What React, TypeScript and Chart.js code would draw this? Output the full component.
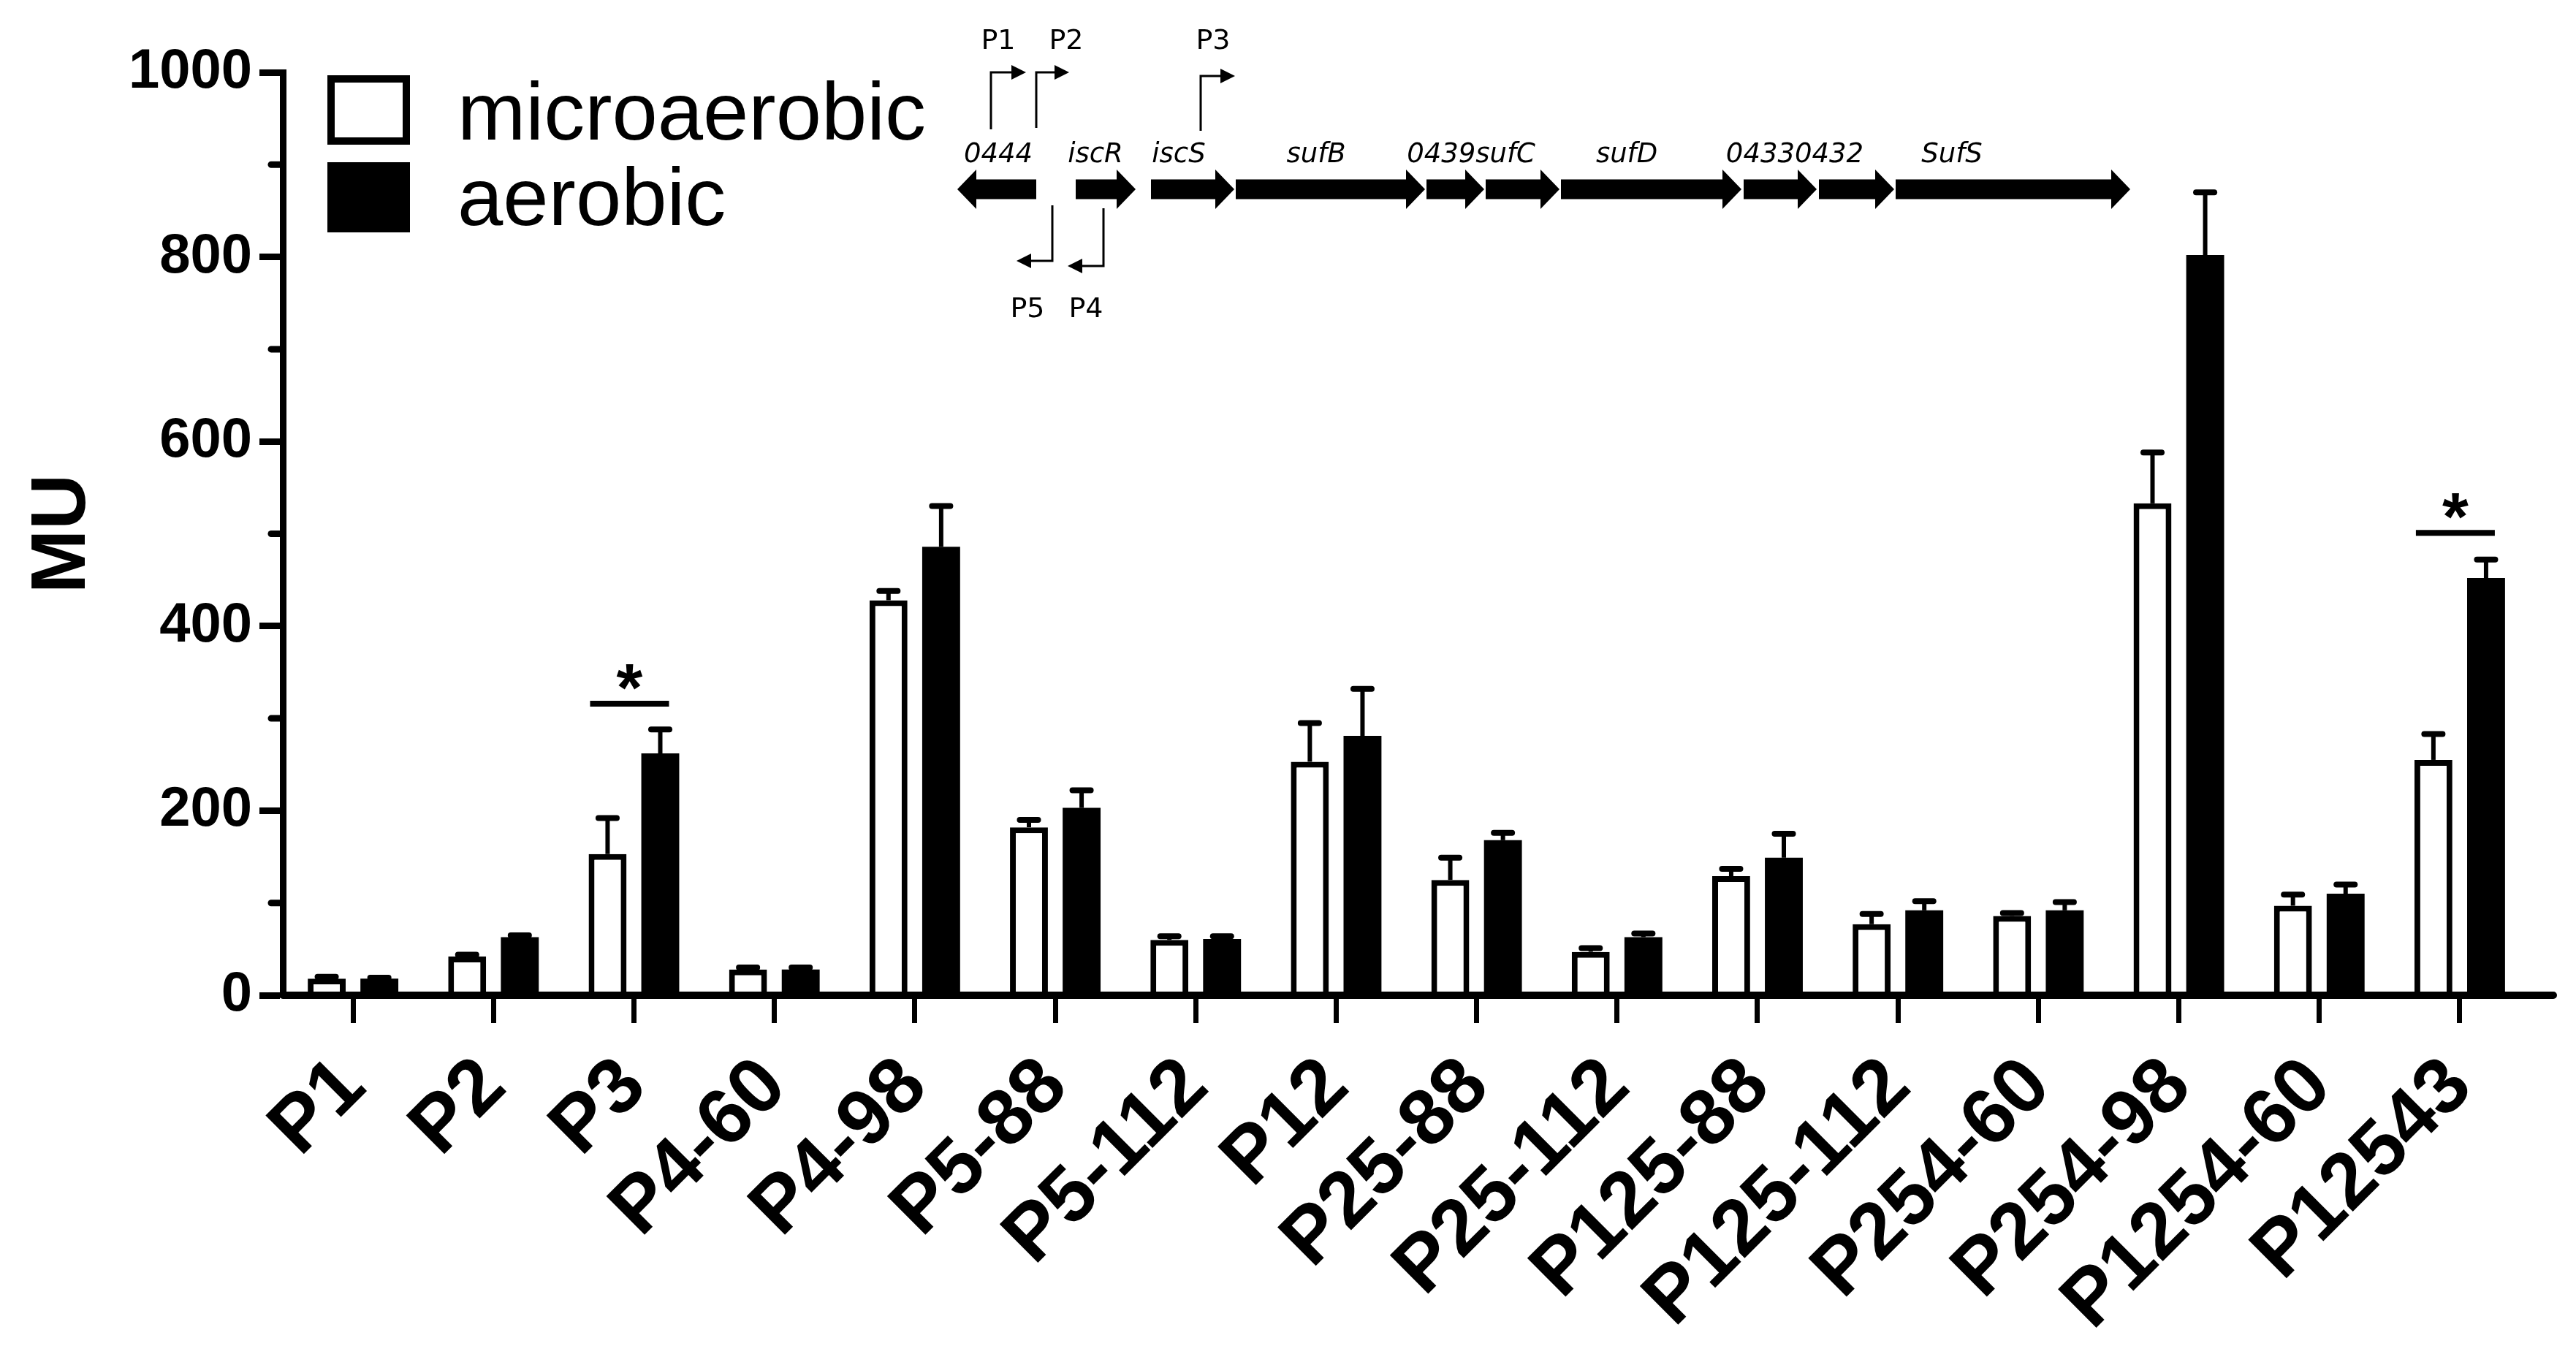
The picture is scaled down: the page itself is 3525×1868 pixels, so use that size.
import React, { useEffect, useRef } from 'react';
import { Chart, registerables } from 'chart.js';

Chart.register(...registerables);

// ---------------- data ----------------
const categories = ['P1', 'P2', 'P3', 'P4-60', 'P4-98', 'P5-88', 'P5-112', 'P12', 'P25-88', 'P25-112', 'P125-88', 'P125-112', 'P254-60', 'P254-98', 'P1254-60', 'P12543'];
const microaerobic = [18, 42, 153, 28, 428, 182, 60, 253, 125, 47, 129, 77, 86, 533, 97, 255];
const microaerobicErr = [2, 2, 39, 2, 10, 8, 4, 42, 24, 4, 8, 11, 3, 55, 12, 28];
const aerobic = [18, 63, 262, 28, 486, 203, 61, 281, 168, 63, 149, 92, 92, 802, 110, 452];
const aerobicErr = [1, 2, 26, 2, 44, 19, 3, 51, 8, 4, 26, 10, 9, 68, 10, 20];
const seriesLabels = ['microaerobic', 'aerobic'];
const yMin = 0;
const yMax = 1000;
const yMajorStep = 200;
const yMinorStep = 100;
const yTitle = 'MU';
const sigCategories = ['P3', 'P12543'];
const sigLevels = [316, 501];
const sigMarks = ['*', '*'];

// gene-map inset (illustration)
const geneNames = ['0444', 'iscR', 'iscS', 'sufB', '0439', 'sufC', 'sufD', '0433', '0432', 'SufS'];
const geneLabelTexts = ['0444', 'iscR', 'iscS', 'sufB', '0439sufC', 'sufD', '04330432', 'SufS'];
const promoterNames = ['P1', 'P2', 'P3', 'P4', 'P5'];

// ---------------- layout / style ----------------
const W = 3525;
const H = 1868;
const FONT = "'Liberation Sans', Arial, Helvetica, sans-serif";
const MAP_FONT = "'DejaVu Sans', 'Liberation Sans', sans-serif";

const geneGeom: Record<string, { x0: number; x1: number; dir: number }> = {
  '0444': { x0: 1310, x1: 1418, dir: -1 },
  iscR: { x0: 1472, x1: 1554, dir: 1 },
  iscS: { x0: 1575, x1: 1689, dir: 1 },
  sufB: { x0: 1691, x1: 1950, dir: 1 },
  '0439': { x0: 1952, x1: 2031, dir: 1 },
  sufC: { x0: 2033, x1: 2134, dir: 1 },
  sufD: { x0: 2136, x1: 2383, dir: 1 },
  '0433': { x0: 2386, x1: 2486, dir: 1 },
  '0432': { x0: 2489, x1: 2592, dir: 1 },
  SufS: { x0: 2594, x1: 2915, dir: 1 },
};
const geneLabelX: Record<string, number> = {
  '0444': 1366, iscR: 1499, iscS: 1613, sufB: 1801, '0439sufC': 2013, sufD: 2226, '04330432': 2456, SufS: 2671,
};
const promoterGeom: Record<string, { x: number; yFrom: number; yTo: number; tip: number; labelX: number; labelY: number }> = {
  P1: { x: 1356, yFrom: 177, yTo: 99, tip: 1404, labelX: 1366, labelY: 67 },
  P2: { x: 1418, yFrom: 175, yTo: 99, tip: 1463, labelX: 1459, labelY: 67 },
  P3: { x: 1643, yFrom: 179, yTo: 104, tip: 1690, labelX: 1660, labelY: 67 },
  P4: { x: 1510, yFrom: 285, yTo: 364, tip: 1461, labelX: 1486, labelY: 434 },
  P5: { x: 1440, yFrom: 281, yTo: 357, tip: 1391, labelX: 1406, labelY: 434 },
};

function drawGeneMap(ctx: CanvasRenderingContext2D) {
  const yc = 259, bh = 13.5, hh = 27, head = 26;
  ctx.save();
  ctx.fillStyle = '#000';
  geneNames.forEach((g) => {
    const { x0, x1, dir } = geneGeom[g];
    ctx.beginPath();
    if (dir > 0) {
      ctx.moveTo(x0, yc - bh);
      ctx.lineTo(x1 - head, yc - bh);
      ctx.lineTo(x1 - head, yc - hh);
      ctx.lineTo(x1, yc);
      ctx.lineTo(x1 - head, yc + hh);
      ctx.lineTo(x1 - head, yc + bh);
      ctx.lineTo(x0, yc + bh);
    } else {
      ctx.moveTo(x1, yc - bh);
      ctx.lineTo(x0 + head, yc - bh);
      ctx.lineTo(x0 + head, yc - hh);
      ctx.lineTo(x0, yc);
      ctx.lineTo(x0 + head, yc + hh);
      ctx.lineTo(x0 + head, yc + bh);
      ctx.lineTo(x1, yc + bh);
    }
    ctx.closePath();
    ctx.fill();
  });
  // gene labels
  ctx.font = `italic 37px ${MAP_FONT}`;
  ctx.textAlign = 'center';
  ctx.textBaseline = 'alphabetic';
  geneLabelTexts.forEach((t) => {
    ctx.fillText(t, geneLabelX[t], 222);
  });
  // promoters
  ctx.strokeStyle = '#000';
  ctx.lineWidth = 3;
  ctx.font = `38px ${MAP_FONT}`;
  promoterNames.forEach((p) => {
    const g = promoterGeom[p];
    const dir = g.tip > g.x ? 1 : -1;
    const hl = 20, hw = 10;
    ctx.beginPath();
    ctx.moveTo(g.x, g.yFrom);
    ctx.lineTo(g.x, g.yTo);
    ctx.lineTo(g.tip - dir * hl, g.yTo);
    ctx.stroke();
    ctx.beginPath();
    ctx.moveTo(g.tip, g.yTo);
    ctx.lineTo(g.tip - dir * hl, g.yTo - hw);
    ctx.lineTo(g.tip - dir * hl, g.yTo + hw);
    ctx.closePath();
    ctx.fill();
    ctx.fillText(p, g.labelX, g.labelY);
  });
  ctx.restore();
}

const figurePlugin = {
  id: 'figureExtras',
  afterDatasetsDraw(chart: any) {
    const { ctx, scales, chartArea } = chart;
    const x = scales.x;
    const y = scales.y;
    const errs = [microaerobicErr, aerobicErr];
    ctx.save();
    ctx.strokeStyle = '#000';
    ctx.fillStyle = '#000';
    // error bars (upper only)
    chart.data.datasets.forEach((ds: any, i: number) => {
      const meta = chart.getDatasetMeta(i);
      meta.data.forEach((bar: any, j: number) => {
        const v = ds.data[j];
        const e = errs[i][j];
        const yb = y.getPixelForValue(v);
        const yt = y.getPixelForValue(v + e);
        ctx.lineCap = 'butt';
        ctx.lineWidth = 6;
        ctx.beginPath();
        ctx.moveTo(bar.x, yb);
        ctx.lineTo(bar.x, yt);
        ctx.stroke();
        ctx.lineCap = 'round';
        ctx.lineWidth = 8;
        ctx.beginPath();
        ctx.moveTo(bar.x - 12.5, yt);
        ctx.lineTo(bar.x + 12.5, yt);
        ctx.stroke();
      });
    });
    // x axis line (extends past last category)
    const y0 = y.getPixelForValue(0);
    ctx.lineWidth = 10;
    ctx.lineCap = 'round';
    ctx.beginPath();
    ctx.moveTo(chartArea.left, y0);
    ctx.lineTo(chartArea.right + 32, y0);
    ctx.stroke();
    // minor y ticks
    ctx.lineWidth = 9;
    ctx.lineCap = 'round';
    for (let v = yMin + yMinorStep; v < yMax; v += yMajorStep) {
      const py = y.getPixelForValue(v);
      ctx.beginPath();
      ctx.moveTo(chartArea.left - 16, py);
      ctx.lineTo(chartArea.left, py);
      ctx.stroke();
    }
    // significance markers
    sigCategories.forEach((c, k) => {
      const idx = categories.indexOf(c);
      const cx = x.getPixelForValue(idx) - 6;
      const ly = y.getPixelForValue(sigLevels[k]);
      ctx.lineWidth = 8;
      ctx.lineCap = 'butt';
      ctx.beginPath();
      ctx.moveTo(cx - 54, ly);
      ctx.lineTo(cx + 54, ly);
      ctx.stroke();
      ctx.font = `bold 92px ${FONT}`;
      ctx.textAlign = 'center';
      ctx.textBaseline = 'alphabetic';
      ctx.fillText(sigMarks[k], cx, ly + 10);
    });
    // legend
    const lx = 448, lw = 113;
    const rows = [{ top: 103, bottom: 198 }, { top: 222, bottom: 318 }];
    chart.data.datasets.forEach((ds: any, i: number) => {
      const r = rows[i];
      ctx.fillStyle = ds.borderColor;
      ctx.fillRect(lx, r.top, lw, r.bottom - r.top);
      if (ds.backgroundColor !== ds.borderColor) {
        ctx.fillStyle = ds.backgroundColor;
        ctx.fillRect(lx + 10, r.top + 10, lw - 20, r.bottom - r.top - 20);
      }
      ctx.fillStyle = '#000';
      ctx.font = `112px ${FONT}`;
      ctx.textAlign = 'left';
      ctx.textBaseline = 'alphabetic';
      ctx.fillText(ds.label, 626, i === 0 ? 191 : 308);
    });
    ctx.restore();
    drawGeneMap(ctx);
  },
};

export default function App() {
  const ref = useRef<HTMLCanvasElement>(null);
  useEffect(() => {
    document.body.style.margin = '0';
    document.body.style.overflow = 'hidden';
    const chart = new Chart(ref.current as HTMLCanvasElement, {
      type: 'bar',
      data: {
        labels: categories,
        datasets: [
          {
            label: seriesLabels[0],
            data: microaerobic,
            backgroundColor: '#ffffff',
            borderColor: '#000000',
            borderWidth: 8,
            categoryPercentage: 0.75,
            barPercentage: 0.72,
          },
          {
            label: seriesLabels[1],
            data: aerobic,
            backgroundColor: '#000000',
            borderColor: '#000000',
            borderWidth: 0,
            categoryPercentage: 0.75,
            barPercentage: 0.72,
          },
        ],
      },
      options: {
        responsive: false,
        animation: false,
        devicePixelRatio: 1,
        events: [],
        layout: { padding: { left: 0, top: 99, right: 63, bottom: 0 } },
        plugins: {
          legend: { display: false },
          tooltip: { enabled: false },
          title: { display: false },
        },
        scales: {
          x: {
            type: 'category',
            offset: true,
            border: { display: false },
            grid: {
              display: true,
              drawOnChartArea: false,
              drawTicks: true,
              offset: false,
              tickLength: 38,
              tickWidth: 7,
              tickColor: '#000',
            },
            ticks: {
              autoSkip: false,
              minRotation: 45,
              maxRotation: 45,
              padding: 24,
              color: '#000',
              font: { family: FONT, size: 108, weight: 'bold' },
            },
            afterFit: (s: any) => {
              s.height = H - 1362;
            },
          },
          y: {
            min: yMin,
            max: yMax,
            border: { display: true, width: 9, color: '#000' },
            grid: {
              display: true,
              drawOnChartArea: false,
              drawTicks: true,
              tickLength: 32,
              tickWidth: 9,
              tickColor: (c: any) => (c.tick && c.tick.value % yMajorStep === 0 ? '#000' : 'rgba(0,0,0,0)'),
            },
            ticks: {
              stepSize: yMinorStep,
              padding: 10,
              color: '#000',
              font: { family: FONT, size: 76, weight: 'bold' },
              callback: (v: any) => (Number(v) % yMajorStep === 0 ? String(v) : ''),
            },
            title: {
              display: true,
              text: yTitle,
              color: '#000',
              font: { family: FONT, size: 105, weight: 'bold' },
              padding: { top: 24, bottom: 0 },
            },
            afterFit: (s: any) => {
              s.width = 387;
            },
          },
        },
      } as any,
      plugins: [figurePlugin],
    });
    return () => chart.destroy();
  }, []);
  return (
    <div style={{ width: W, height: H }}>
      <canvas ref={ref} width={W} height={H} style={{ display: 'block' }} />
    </div>
  );
}
